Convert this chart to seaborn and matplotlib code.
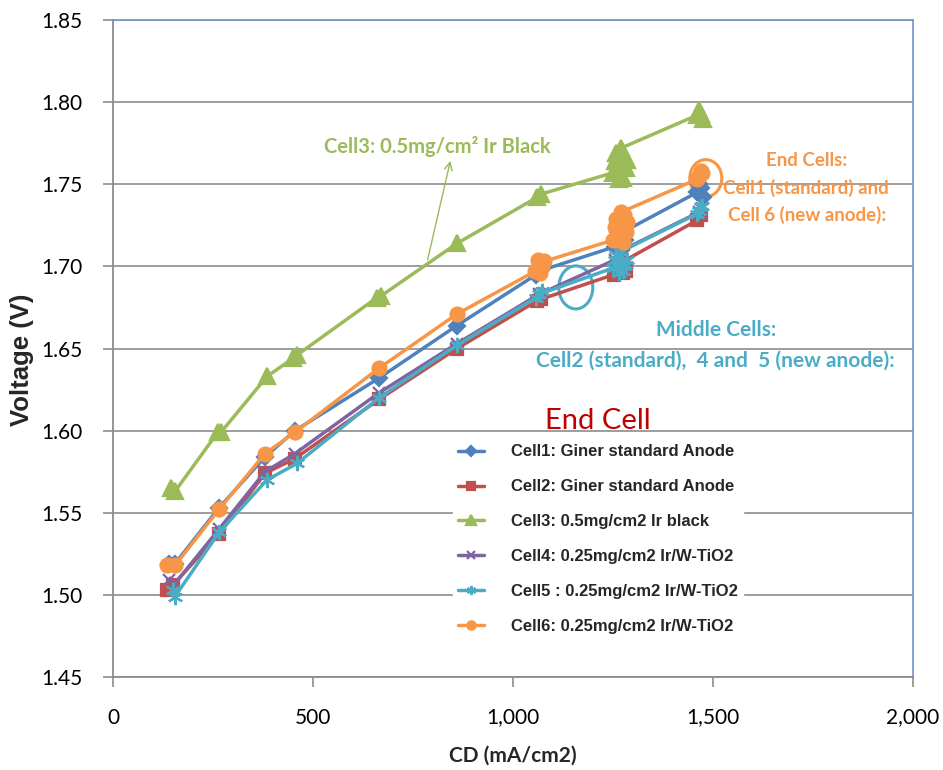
import numpy as np
import pandas as pd
import matplotlib
matplotlib.use("Agg")
import matplotlib.pyplot as plt
from matplotlib.patches import Ellipse
from matplotlib.ticker import FuncFormatter
import seaborn as sns

# Polarization data: current density (mA/cm2) vs. cell voltage (V), repeated readings per step
cd_cell1 = [140, 155, 265, 380, 455, 665, 860, 1058, 1070, 1064,
            1255, 1280, 1262, 1275, 1268, 1460, 1474, 1466, 1470]
v_cell1 = [1.519, 1.519, 1.553, 1.584, 1.600, 1.632, 1.664, 1.695, 1.698, 1.697,
           1.712, 1.716, 1.721, 1.713, 1.720, 1.745, 1.742, 1.750, 1.748]

cd_cell2 = [135, 150, 265, 380, 455, 665, 860, 1060, 1070,
            1252, 1282, 1260, 1276, 1268, 1460, 1470]
v_cell2 = [1.503, 1.506, 1.537, 1.574, 1.583, 1.619, 1.650, 1.679, 1.680,
           1.695, 1.697, 1.700, 1.696, 1.702, 1.728, 1.731]

cd_cell3 = [145, 155, 262, 270, 385, 450, 460, 660, 670, 860, 1060, 1070,
            1250, 1282, 1258, 1276, 1264, 1286, 1254, 1278, 1270,
            1460, 1474, 1466, 1470]
v_cell3 = [1.565, 1.563, 1.599, 1.599, 1.633, 1.644, 1.646, 1.681, 1.682, 1.714, 1.742, 1.744,
           1.757, 1.760, 1.769, 1.754, 1.753, 1.765, 1.764, 1.768, 1.772,
           1.792, 1.790, 1.795, 1.793]

cd_cell4 = [140, 155, 265, 380, 455, 665, 860, 1065, 1255, 1278, 1266, 1465, 1470]
v_cell4 = [1.509, 1.507, 1.540, 1.575, 1.586, 1.623, 1.653, 1.683, 1.704, 1.707, 1.709, 1.733, 1.735]

cd_cell5 = [150, 155, 265, 385, 460, 665, 860, 1058, 1072, 1065,
            1250, 1282, 1258, 1276, 1264, 1286, 1254, 1278, 1270,
            1460, 1472, 1466, 1470]
v_cell5 = [1.503, 1.499, 1.538, 1.570, 1.580, 1.620, 1.652, 1.681, 1.685, 1.683,
           1.699, 1.701, 1.707, 1.697, 1.696, 1.704, 1.704, 1.700, 1.709,
           1.732, 1.737, 1.734, 1.736]

cd_cell6 = [135, 155, 265, 380, 455, 665, 860, 1055, 1072, 1062, 1068, 1078,
            1250, 1282, 1258, 1276, 1262, 1286, 1255, 1278, 1270,
            1460, 1472, 1466, 1470]
v_cell6 = [1.518, 1.518, 1.552, 1.586, 1.599, 1.638, 1.671, 1.697, 1.700, 1.704, 1.696, 1.703,
           1.716, 1.721, 1.729, 1.715, 1.719, 1.727, 1.724, 1.731, 1.733,
           1.753, 1.757, 1.755, 1.758]

labels = [
    "Cell1: Giner standard Anode",
    "Cell2: Giner standard Anode",
    "Cell3: 0.5mg/cm2 Ir black",
    "Cell4: 0.25mg/cm2 Ir/W-TiO2",
    "Cell5 : 0.25mg/cm2 Ir/W-TiO2",
    "Cell6: 0.25mg/cm2 Ir/W-TiO2",
]
x_ticks = [0, 500, 1000, 1500, 2000]
y_ticks = [1.45, 1.50, 1.55, 1.60, 1.65, 1.70, 1.75, 1.80, 1.85]

series = [
    (cd_cell1, v_cell1, "#4F81BD", "D", 8),
    (cd_cell2, v_cell2, "#C0504D", "s", 9),
    (cd_cell3, v_cell3, "#9BBB59", "^", 11),
    (cd_cell4, v_cell4, "#8064A2", "x", 9),
    (cd_cell5, v_cell5, "#4BACC6", (6, 2, 0), 11),
    (cd_cell6, v_cell6, "#F79646", "o", 10),
]

sns.set_theme(style="white")
plt.rcParams["font.family"] = ["Lato", "DejaVu Sans"]

fig = plt.figure(figsize=(9.43, 7.70), dpi=100)
ax = fig.add_axes([113 / 943, 93 / 770, 800 / 943, 657 / 770])

for (cd, v, color, marker, ms), label in zip(series, labels):
    df = pd.DataFrame({"cd": cd, "v": v})
    sns.lineplot(
        data=df, x="cd", y="v", ax=ax, sort=False, estimator=None,
        color=color, linewidth=2.5, marker=marker, markersize=ms,
        markeredgecolor=color, markerfacecolor=color, markeredgewidth=1.6,
        label=label,
    )

ax.set_xlim(0, 2000)
ax.set_ylim(1.45, 1.85)
ax.set_xticks(x_ticks)
ax.set_yticks(y_ticks)
ax.xaxis.set_major_formatter(FuncFormatter(lambda x, _: f"{x:,.0f}"))
ax.yaxis.set_major_formatter(FuncFormatter(lambda y, _: f"{y:.2f}"))
ax.yaxis.grid(True, color="#8C8C8C", linewidth=1.2)
ax.xaxis.grid(False)
ax.set_axisbelow(True)

for side in ("left", "bottom"):
    ax.spines[side].set_color("#8C8C8C")
    ax.spines[side].set_linewidth(1.3)
for side in ("top", "right"):
    ax.spines[side].set_color("#6F93C8")
    ax.spines[side].set_linewidth(1.2)

ax.tick_params(axis="both", which="major", direction="out", length=7, width=1.2,
               color="#8C8C8C", labelsize=15, labelcolor="black", bottom=True, left=True)
ax.tick_params(axis="y", pad=15)
ax.tick_params(axis="x", pad=15)

ax.set_xlabel("CD (mA/cm2)", fontsize=15, fontweight="bold", labelpad=13)
ax.set_ylabel("Voltage (V)", fontsize=18.5, fontweight="bold", family=["Liberation Sans", "DejaVu Sans"])
ax.yaxis.set_label_coords(-0.114, 0.4825)
ax.yaxis.label.set_verticalalignment("center")

# Legend over a white box
leg = ax.legend(
    loc="upper left", bbox_to_anchor=(445 / 943, 1 - 431 / 770), bbox_transform=fig.transFigure,
    frameon=True, fancybox=False, framealpha=1, edgecolor="white", facecolor="white",
    prop={"family": "Liberation Sans", "weight": "bold", "size": 12},
    handlelength=1.55, handletextpad=1.6, labelspacing=1.2, markerscale=0.6, borderpad=0.3,
)

# Annotations
green_c = "#9BBB59"
orange_c = "#F79646"
teal_c = "#4BACC6"

ax.text(812, 1.7732, "Cell3: 0.5mg/cm² Ir Black", color=green_c, fontsize=14.5,
        fontweight="bold", ha="center", va="center")
ax.annotate("", xy=(845, 1.7659), xytext=(785, 1.7024),
            arrowprops=dict(arrowstyle="->", color=green_c, lw=1.0, mutation_scale=14))

ax.text(1735, 1.7646, "End Cells:", color=orange_c, fontsize=13.5, fontweight="bold", ha="center", va="center")
ax.text(1732, 1.7476, "Cell1 (standard) and", color=orange_c, fontsize=13.5, fontweight="bold", ha="center", va="center")
ax.text(1735, 1.7311, "Cell 6 (new anode):", color=orange_c, fontsize=13.5, fontweight="bold", ha="center", va="center")

ax.text(1507, 1.6610, "Middle Cells:", color=teal_c, fontsize=15, fontweight="bold", ha="center", va="center")
ax.text(1507, 1.6427, "Cell2 (standard),  4 and  5 (new anode):", color=teal_c, fontsize=15,
        fontweight="bold", ha="center", va="center")

ax.text(1212, 1.6061, "End Cell", color="#C00000", fontsize=21, ha="center", va="center")

ax.add_patch(Ellipse((1482, 1.7537), 80, 0.0226, fill=False, edgecolor=orange_c, linewidth=2.2))
ax.add_patch(Ellipse((1157, 1.6872), 85, 0.0262, fill=False, edgecolor=teal_c, linewidth=2.2))

fig.savefig("out.png", dpi=100, facecolor="white")
